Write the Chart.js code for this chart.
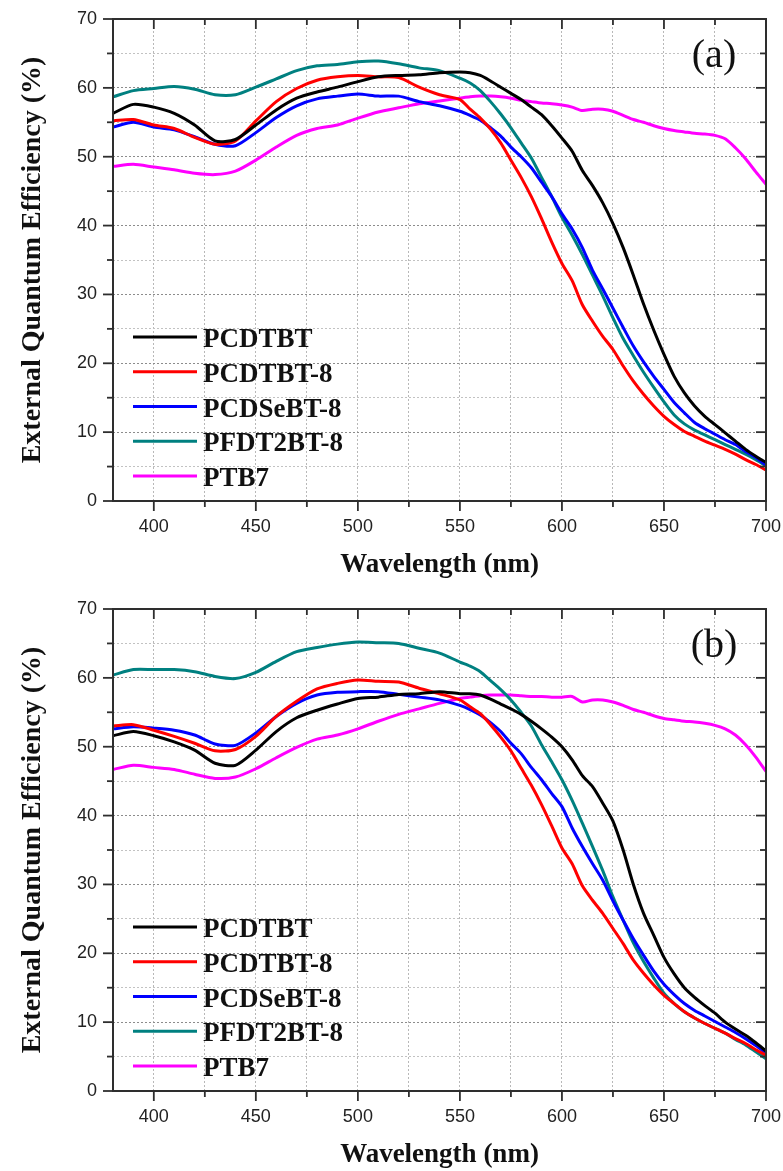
<!DOCTYPE html>
<html>
<head>
<meta charset="utf-8">
<title>External Quantum Efficiency</title>
<script src="https://cdn.jsdelivr.net/npm/chart.js@4.4.1/dist/chart.umd.min.js"></script>
<style>
  html, body { margin: 0; padding: 0; background: #fff; overflow: hidden; width: 783px; height: 1171px; }
  #wrap { position: relative; width: 783px; height: 1171px; overflow: hidden; }
  canvas { position: absolute; left: 0; }
  #chartA { top: 0; }
  #chartB { top: 590px; }
</style>
</head>
<body>
<div id="wrap">
  <canvas id="chartA" width="783" height="590"></canvas>
  <canvas id="chartB" width="783" height="590"></canvas>
</div>
<script>
// Wavelength grid (nm): 10 nm steps over the flat region, 5 nm over the roll-off
const wavelength = [380,390,400,410,420,430,440,450,460,470,480,490,500,510,520,530,540,550,
  555,560,565,570,575,580,585,590,595,600,605,610,615,620,625,630,635,640,645,650,
  655,660,665,670,675,680,685,690,695,700];

const seriesNames = ['PCDTBT', 'PCDTBT-8', 'PCDSeBT-8', 'PFDT2BT-8', 'PTB7'];
const seriesColors = ['#000000', '#ff0000', '#0000ff', '#008080', '#ff00ff'];

// Panel (a) EQE (%)
const eqeA_PCDTBT = [56.3,57.6,57.2,56.3,54.6,52.3,52.5,54.6,56.8,58.5,59.4,60.1,60.9,61.6,61.8,61.9,62.2,62.3,
  62.2,61.8,61.0,60.1,59.2,58.3,57.2,56.1,54.5,52.7,50.8,48.0,45.8,43.3,40.3,36.8,32.8,28.6,24.8,21.3,
  18.1,15.7,13.8,12.3,11.1,9.9,8.7,7.5,6.5,5.6];
const eqeA_PCDTBT8 = [55.2,55.4,54.6,54.1,52.8,51.8,52.3,55.2,58.0,59.9,61.1,61.6,61.8,61.6,61.5,60.1,59.0,58.3,
  56.9,55.6,54.0,52.0,49.5,47.0,44.2,41.0,37.6,34.5,32.0,28.5,26.1,23.9,22.0,19.6,17.4,15.5,13.8,12.3,
  11.1,10.1,9.4,8.7,8.1,7.5,6.8,6.0,5.3,4.5];
const eqeA_PCDSeBT8 = [54.3,55.0,54.3,53.9,52.9,51.8,51.6,53.5,55.7,57.4,58.4,58.8,59.1,58.8,58.8,58.0,57.4,56.6,
  56.0,55.3,54.2,53.0,51.4,50.0,48.4,46.3,44.2,41.7,39.5,36.8,33.5,30.8,28.0,25.2,22.5,20.2,18.1,16.2,
  14.3,12.8,11.4,10.5,9.7,8.9,8.2,7.2,6.3,5.2];
const eqeA_PFDT2BT8 = [58.7,59.6,59.9,60.2,59.8,59.0,59.0,60.1,61.3,62.5,63.2,63.4,63.8,63.9,63.5,62.9,62.5,61.4,
  60.7,59.6,58.0,56.2,54.2,52.0,49.8,47.0,44.2,41.2,38.6,35.8,32.8,29.8,26.6,23.6,21.1,18.7,16.5,14.4,
  12.5,11.2,10.3,9.6,8.9,8.2,7.5,6.8,6.0,5.1];
const eqeA_PTB7 = [48.6,48.9,48.5,48.1,47.6,47.4,47.9,49.5,51.4,53.1,54.1,54.6,55.6,56.5,57.1,57.7,58.1,58.5,
  58.7,58.8,58.8,58.7,58.5,58.2,58.0,57.8,57.7,57.5,57.2,56.7,56.9,56.9,56.6,56.0,55.4,55.0,54.5,54.1,
  53.8,53.6,53.4,53.3,53.1,52.6,51.3,49.7,47.8,46.0];

// Panel (b) EQE (%)
const eqeB_PCDTBT = [51.6,52.2,51.6,50.7,49.5,47.6,47.3,49.5,52.2,54.2,55.3,56.2,57.0,57.2,57.6,57.7,58.0,57.7,
  57.7,57.5,56.9,56.2,55.5,54.7,53.7,52.6,51.4,50.0,48.1,45.8,44.2,41.8,39.2,35.0,30.0,25.8,22.6,19.4,
  17.0,15.0,13.6,12.4,11.3,10.0,9.0,8.1,7.0,5.8];
const eqeB_PCDTBT8 = [53.0,53.2,52.4,51.5,50.5,49.4,49.6,51.5,54.4,56.6,58.4,59.2,59.7,59.5,59.4,58.5,57.7,56.8,
  55.8,54.8,53.2,51.4,49.4,46.9,44.4,41.6,38.5,35.3,33.0,29.8,27.7,25.8,23.6,21.4,19.0,17.1,15.4,13.9,
  12.7,11.5,10.6,9.8,9.1,8.4,7.6,6.9,6.0,5.2];
const eqeB_PCDSeBT8 = [52.6,52.9,52.7,52.4,51.7,50.4,50.2,52.0,54.4,56.3,57.5,57.9,58.0,58.0,57.6,57.2,56.8,56.0,
  55.4,54.6,53.5,52.2,50.5,49.0,47.0,45.2,43.2,41.3,38.2,35.5,33.0,30.6,27.6,24.8,22.1,19.7,17.4,15.5,
  14.0,12.7,11.7,10.9,10.1,9.3,8.5,7.6,6.6,5.5];
const eqeB_PFDT2BT8 = [60.4,61.2,61.2,61.2,60.9,60.2,59.9,60.8,62.4,63.8,64.4,64.9,65.2,65.1,65.0,64.3,63.6,62.3,
  61.7,60.9,59.6,58.3,56.8,55.0,53.0,50.3,47.8,45.2,42.2,38.9,35.5,32.0,28.2,24.8,21.5,18.8,16.4,14.2,
  12.7,11.5,10.6,9.8,9.1,8.4,7.5,6.7,5.7,4.7];
const eqeB_PTB7 = [46.7,47.3,47.0,46.7,46.0,45.4,45.6,46.8,48.4,49.9,51.1,51.7,52.6,53.7,54.7,55.5,56.3,57.0,
  57.2,57.4,57.5,57.5,57.5,57.4,57.3,57.3,57.2,57.2,57.3,56.5,56.8,56.8,56.5,56.0,55.4,55.0,54.5,54.1,
  53.9,53.7,53.6,53.4,53.1,52.6,51.7,50.3,48.5,46.4];

// Axis ticks
const xMajorTicks = [400, 450, 500, 550, 600, 650, 700];
const xMinorTicks = [425, 475, 525, 575, 625, 675];
const yMajorTicks = [0, 10, 20, 30, 40, 50, 60, 70];
const yMinorTicks = [5, 15, 25, 35, 45, 55, 65];

const xTitle = 'Wavelength (nm)';
const yTitle = 'External Quantum Efficiency (%)';

const SERIF = "'Liberation Serif', 'Times New Roman', serif";
const SANS = "'Liberation Sans', Arial, sans-serif";
const FRAME = '#2e2e2e';

// Frame, mirrored ticks, legend and panel label
const decorPlugin = {
  id: 'decor',
  afterDraw(chart, args, opts) {
    const { ctx, chartArea: a, scales: { x, y } } = chart;
    ctx.save();
    const seg = (x1, y1, x2, y2) => { ctx.beginPath(); ctx.moveTo(x1, y1); ctx.lineTo(x2, y2); ctx.stroke(); };

    // legend
    const ds = chart.data.datasets;
    ds.forEach((d, i) => {
      const yy = a.bottom - 164 + i * 34.75;
      ctx.strokeStyle = d.borderColor;
      ctx.lineWidth = 3.2;
      ctx.lineCap = 'butt';
      seg(a.left + 20, yy, a.left + 84, yy);
      ctx.fillStyle = '#111';
      ctx.font = 'bold 27px ' + SERIF;
      ctx.textAlign = 'left';
      ctx.textBaseline = 'alphabetic';
      ctx.fillText(d.label, a.left + 90, yy + 10);
    });

    // frame
    ctx.strokeStyle = FRAME;
    ctx.lineWidth = 2;
    ctx.strokeRect(a.left, a.top, a.right - a.left, a.bottom - a.top);

    // ticks: outward on left/bottom, inward on top/right
    ctx.lineWidth = 1.8;
    x.ticks.forEach(t => {
      const px = x.getPixelForValue(t.value);
      const len = xMajorTicks.includes(t.value) ? 10 : 6;
      seg(px, a.bottom, px, a.bottom + len);
      seg(px, a.top, px, a.top + len);
    });
    y.ticks.forEach(t => {
      const py = y.getPixelForValue(t.value);
      const len = yMajorTicks.includes(t.value) ? 10 : 6;
      seg(a.left - len, py, a.left, py);
      seg(a.right - len, py, a.right, py);
    });

    // panel label
    ctx.fillStyle = '#111';
    ctx.font = '40px ' + SERIF;
    ctx.textAlign = 'center';
    ctx.textBaseline = 'alphabetic';
    ctx.fillText(opts.label, 714, a.top + 48);
    ctx.restore();
  }
};

function makeChart(canvasId, label, values) {
  const datasets = seriesNames.map((name, i) => ({
    label: name,
    data: wavelength.map((w, k) => ({ x: w, y: values[i][k] })),
    borderColor: seriesColors[i],
    backgroundColor: seriesColors[i],
    borderWidth: 3,
    pointRadius: 0,
    tension: 0.25,
    fill: false
  }));
  return new Chart(document.getElementById(canvasId), {
    type: 'line',
    data: { datasets },
    plugins: [decorPlugin],
    options: {
      responsive: false,
      animation: false,
      events: [],
      layout: { padding: { left: 0, top: 19, right: 17, bottom: 0 } },
      plugins: {
        legend: { display: false },
        tooltip: { enabled: false },
        decor: { label }
      },
      scales: {
        x: {
          type: 'linear',
          min: 380,
          max: 700,
          afterBuildTicks: s => { s.ticks = xMajorTicks.concat(xMinorTicks).sort((p, q) => p - q).map(v => ({ value: v })); },
          afterFit: s => { s.height = 89; s.paddingLeft = 0; s.paddingRight = 0; },
          border: { display: false, dash: [2, 2] },
          grid: { drawTicks: false, lineWidth: 1, color: '#b8b8b8' },
          ticks: {
            autoSkip: false, maxRotation: 0, padding: 15, color: '#222',
            font: { family: SANS, size: 18 },
            callback: v => xMajorTicks.includes(v) ? String(v) : ''
          },
          title: {
            display: true, text: xTitle, color: '#111',
            font: { family: SERIF, size: 27, weight: 'bold' },
            padding: { top: 0, bottom: 9 }
          }
        },
        y: {
          type: 'linear',
          min: 0,
          max: 70,
          afterBuildTicks: s => { s.ticks = yMajorTicks.concat(yMinorTicks).sort((p, q) => p - q).map(v => ({ value: v })); },
          afterFit: s => { s.width = 113; s.paddingTop = 0; s.paddingBottom = 0; },
          border: { display: false, dash: [2, 2] },
          grid: {
            drawTicks: false, lineWidth: 1,
            color: c => (c.tick && yMajorTicks.includes(c.tick.value)) ? '#8c8c8c' : '#c2c2c2'
          },
          ticks: {
            autoSkip: false, padding: 16, color: '#222',
            font: { family: SANS, size: 18 },
            callback: v => yMajorTicks.includes(v) ? String(v) : ''
          },
          title: {
            display: true, text: yTitle, color: '#111',
            font: { family: SERIF, size: 28, weight: 'bold' },
            padding: { top: 16, bottom: 0 }
          }
        }
      }
    }
  });
}

makeChart('chartA', '(a)', [eqeA_PCDTBT, eqeA_PCDTBT8, eqeA_PCDSeBT8, eqeA_PFDT2BT8, eqeA_PTB7]);
makeChart('chartB', '(b)', [eqeB_PCDTBT, eqeB_PCDTBT8, eqeB_PCDSeBT8, eqeB_PFDT2BT8, eqeB_PTB7]);
</script>
</body>
</html>
